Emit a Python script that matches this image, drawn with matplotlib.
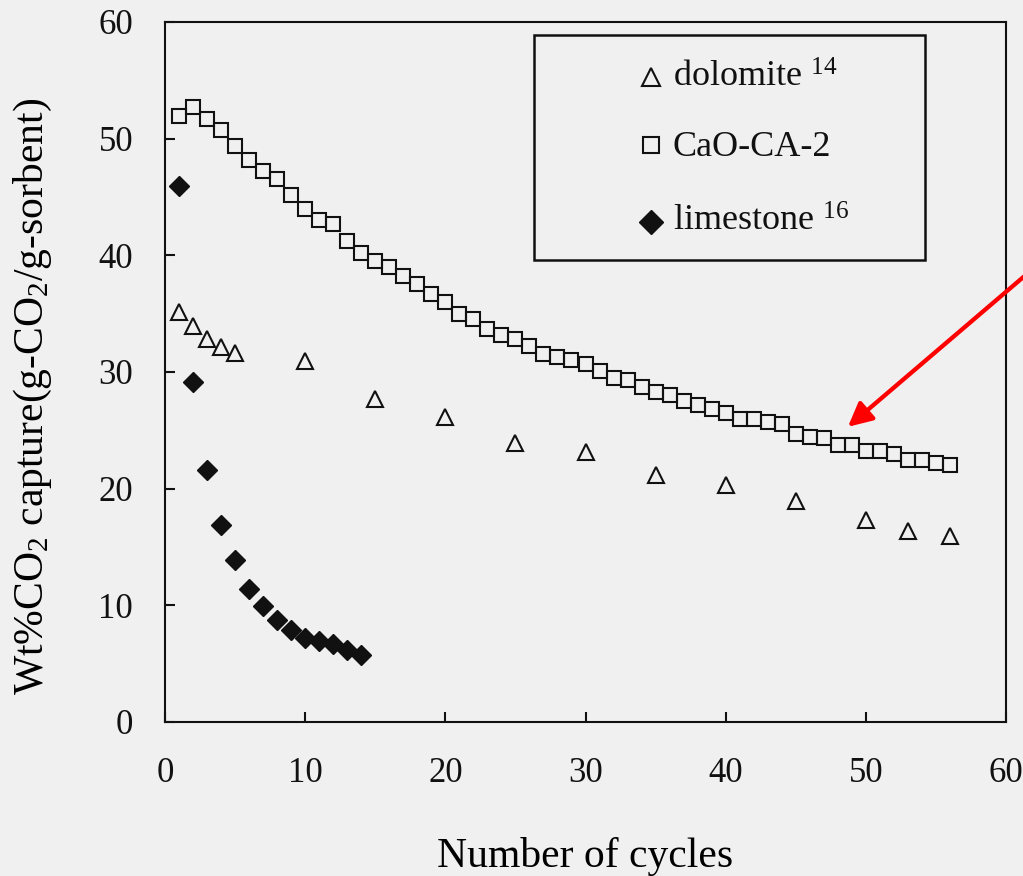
import matplotlib
matplotlib.use('Agg')
import matplotlib.pyplot as plt
from matplotlib.patches import Rectangle

plt.rcParams['font.family'] = ['Liberation Serif', 'DejaVu Serif']
plt.rcParams['mathtext.fontset'] = 'custom'
plt.rcParams['mathtext.rm'] = 'Liberation Serif'
plt.rcParams['mathtext.it'] = 'Liberation Serif:italic'
plt.rcParams['mathtext.bf'] = 'Liberation Serif:bold'

# data
dolomite_cycles = [1, 2, 3, 4, 5, 10, 15, 20, 25, 30, 35, 40, 45, 50, 53, 56]
dolomite_capture = [35.1, 33.9, 32.8, 32.1, 31.6, 30.9, 27.65, 26.1, 23.9, 23.1,
                    21.2, 20.3, 18.9, 17.3, 16.4, 15.9]

cao_cycles = list(range(1, 57))
cao_capture = [51.9, 52.7, 51.7, 50.7, 49.4, 48.2, 47.2, 46.5, 45.2, 44.0,
               43.0, 42.7, 41.2, 40.2, 39.5, 39.0, 38.2, 37.5, 36.7, 36.0,
               35.0, 34.5, 33.7, 33.2, 32.8, 32.2, 31.5, 31.3, 31.0, 30.7,
               30.1, 29.5, 29.3, 28.7, 28.3, 28.0, 27.5, 27.2, 26.8, 26.5,
               26.0, 26.0, 25.7, 25.5, 24.7, 24.45, 24.3, 23.7, 23.7, 23.2,
               23.2, 23.0, 22.45, 22.45, 22.2, 22.0]

limestone_cycles = list(range(1, 15))
limestone_capture = [45.9, 29.1, 21.6, 16.9, 13.9, 11.4, 9.9, 8.7, 7.9, 7.2,
                     6.9, 6.7, 6.2, 5.7]

labels = ['dolomite $^{14}$', 'CaO-CA-2', 'limestone $^{16}$']
ticks = [0, 10, 20, 30, 40, 50, 60]

bg = '#f0f0f0'
styles = [
    dict(marker='^', markersize=11.5, markerfacecolor='none', markeredgecolor='#111111', markeredgewidth=1.5),
    dict(marker='s', markersize=10, markerfacecolor='none', markeredgecolor='#111111', markeredgewidth=1.5),
    dict(marker='D', markersize=10.5, markerfacecolor='#111111', markeredgecolor='#111111', markeredgewidth=1.0),
]

fig = plt.figure(figsize=(10.23, 8.76), dpi=100, facecolor=bg)
ax = fig.add_axes([0.1613, 0.1758, 0.8221, 0.7991], facecolor=bg)

ax.plot(dolomite_cycles, dolomite_capture, linestyle='none', **styles[0])
ax.plot(cao_cycles, cao_capture, linestyle='none', **styles[1])
ax.plot(limestone_cycles, limestone_capture, linestyle='none', **styles[2])

ax.set_xlim(0, 60)
ax.set_ylim(0, 60)
ax.set_xticks(ticks)
ax.set_yticks(ticks)
ax.tick_params(axis='both', direction='in', length=7, width=1.5, labelsize=25, colors='#111111')
ax.tick_params(axis='x', pad=25)
ax.tick_params(axis='y', pad=23)
for s in ax.spines.values():
    s.set_linewidth(1.5)
    s.set_color('#111111')

ax.set_xlabel('Number of cycles', fontsize=30, va='baseline')
ax.xaxis.set_label_coords(0.5, -0.207)
ax.set_ylabel('Wt%CO$_2$ capture(g-CO$_2$/g-sorbent)', fontsize=30, va='baseline')
ax.yaxis.set_label_coords(-0.1451, 0.4657)

# legend box drawn by hand to match the original layout
ax.add_patch(Rectangle((0.4388, 0.66), 0.4649, 0.3214, transform=ax.transAxes,
                       fill=False, edgecolor='#111111', linewidth=1.8, clip_on=False))
marker_y = [0.9214, 0.8243, 0.7143]
text_y = [0.9071, 0.8086, 0.7014]
for lab, st, my, ty in zip(labels, styles, marker_y, text_y):
    st = dict(st, markersize=st['markersize'] * 1.15)
    ax.plot([0.5779], [my], transform=ax.transAxes, clip_on=False, linestyle='none', **st)
    ax.text(0.604, ty, lab, transform=ax.transAxes, fontsize=26, va='baseline', ha='left', color='#111111')

ax.annotate('', xy=(48.72, 25.3), xytext=(63.1, 40.05),
            arrowprops=dict(arrowstyle='-|>', color='red', lw=3.1, mutation_scale=36,
                            shrinkA=0, shrinkB=0),
            annotation_clip=False)

fig.savefig('out.png', dpi=100, facecolor=bg)
